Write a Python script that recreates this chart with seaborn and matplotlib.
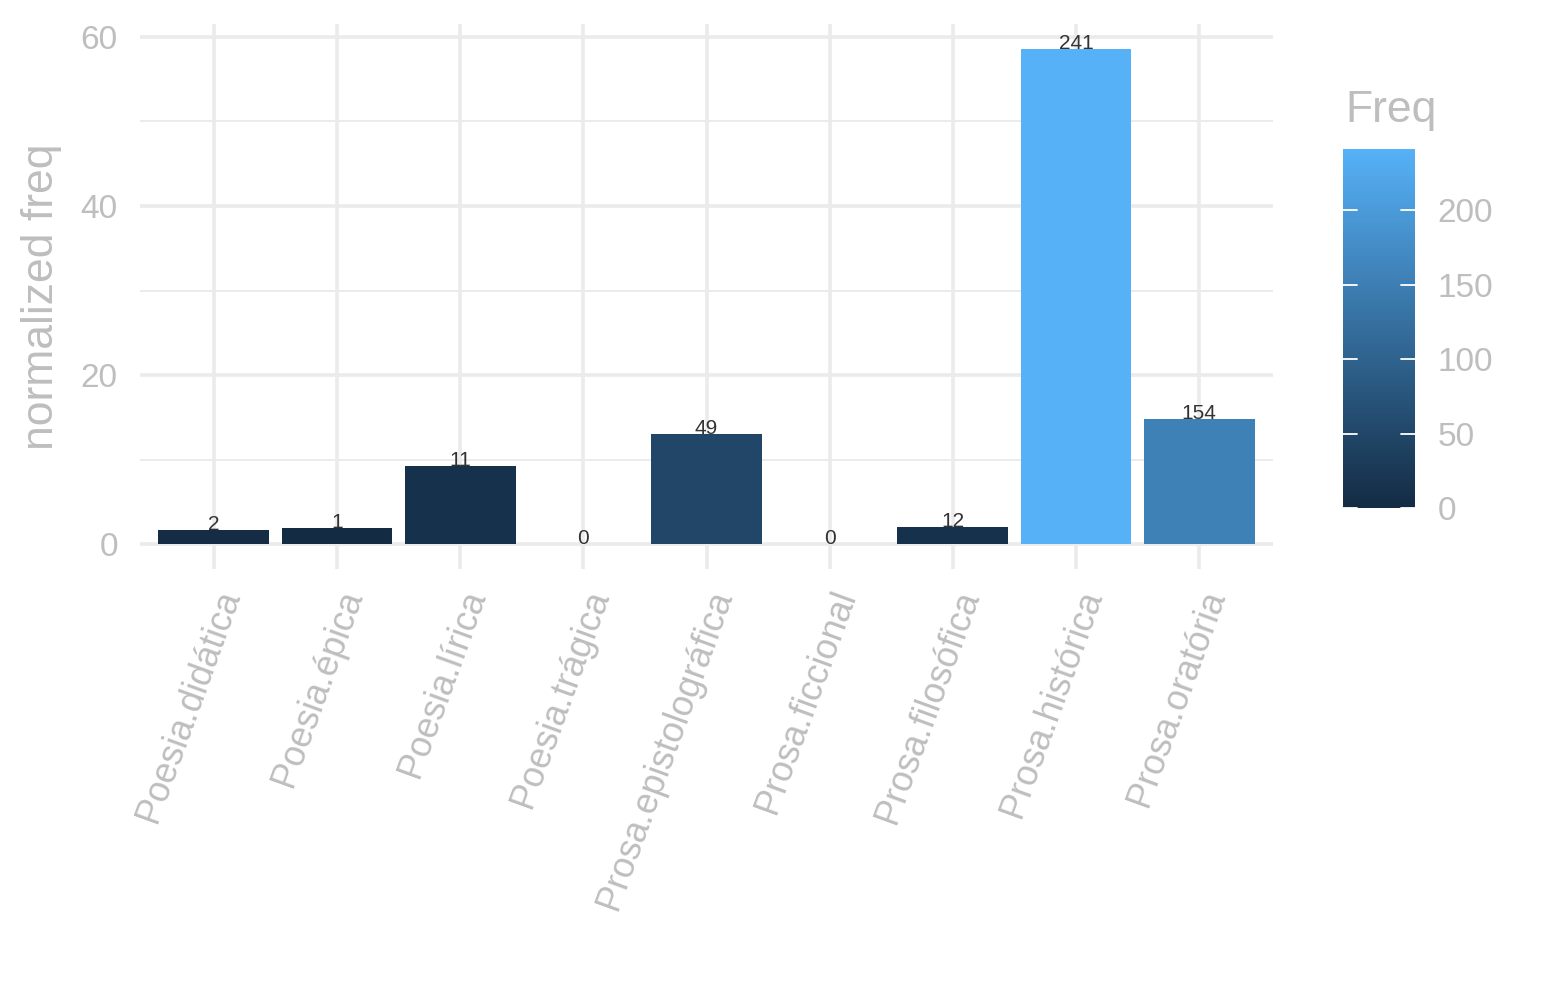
import matplotlib
matplotlib.use("Agg")
import matplotlib.pyplot as plt
import matplotlib.colors as mcolors
import matplotlib.cm as cm
import numpy as np
import pandas as pd
import seaborn as sns

categories = ["Poesia.didática", "Poesia.épica", "Poesia.lírica", "Poesia.trágica",
              "Prosa.epistolográfica", "Prosa.ficcional", "Prosa.filosófica",
              "Prosa.histórica", "Prosa.oratória"]
normalized = [1.66, 1.93, 9.23, 0.0, 13.0, 0.0, 2.05, 58.6, 14.8]
freq = [2, 1, 11, 0, 49, 0, 12, 241, 154]
cbar_ticks = [0, 50, 100, 150, 200]

sns.set_theme(style="white")
plt.rcParams['font.family'] = ['Liberation Sans', 'DejaVu Sans']

GREY = "#BEBEBE"
GRID = "#EBEBEB"

cmap = mcolors.LinearSegmentedColormap.from_list("gg", ["#132B43", "#56B1F7"])
norm = mcolors.Normalize(vmin=0, vmax=max(freq))
palette = [cmap(norm(v)) for v in freq]

df = pd.DataFrame({"cat": categories, "val": normalized, "freq": freq})

fig = plt.figure(figsize=(15.45, 10), dpi=100)
ax = fig.add_axes([0.0906, 0.431, 0.7334, 0.545])

sns.barplot(data=df, x="cat", y="val", hue="cat", palette=palette, legend=False,
            width=0.9, saturation=1, ax=ax, zorder=3, linewidth=0, edgecolor="none")

ax.set_xlim(-0.6, len(categories) - 1 + 0.6)
ymax = max(normalized)
ax.set_ylim(-0.05 * ymax, ymax * 1.05)
ax.set_yticks([0, 20, 40, 60])
ax.set_yticks([10, 30, 50], minor=True)

for s in ax.spines.values():
    s.set_visible(False)
ax.grid(False)
for y in [0, 20, 40, 60]:
    ax.axhline(y, color=GRID, lw=2.6, zorder=0)
for y in [10, 30, 50]:
    ax.axhline(y, color=GRID, lw=1.4, zorder=0)
for i in range(len(categories)):
    ax.axvline(i, color=GRID, lw=2.6, zorder=0)

ax.tick_params(axis='both', which='both', length=0)
ax.tick_params(axis='y', labelsize=24, labelcolor=GREY, pad=16)
ax.tick_params(axis='x', labelsize=26, labelcolor=GREY, pad=12)
for lbl in ax.get_xticklabels():
    lbl.set_rotation(70)
    lbl.set_ha('right')
    lbl.set_va('top')
    lbl.set_rotation_mode('anchor')

ax.set_xlabel("")
ax.set_ylabel("normalized freq", fontsize=32, color=GREY)
ax.yaxis.set_label_coords(-0.069, 0.5)

for i, (v, f) in enumerate(zip(normalized, freq)):
    ax.text(i, v, str(f), ha='center', va='baseline', fontsize=15, color="#333333", zorder=4)

# colorbar
cax = fig.add_axes([0.8693, 0.492, 0.0466, 0.359])
sm = cm.ScalarMappable(norm=norm, cmap=cmap)
cb = fig.colorbar(sm, cax=cax, ticks=cbar_ticks)
cb.outline.set_visible(False)
cax.tick_params(axis='y', length=0, left=False, right=False, labelleft=False,
                labelright=True, labelsize=24, labelcolor=GREY, pad=16)
for t in cbar_ticks:
    cax.axhline(t, xmin=0, xmax=0.2, color='white', lw=1.3, zorder=5)
    cax.axhline(t, xmin=0.8, xmax=1.0, color='white', lw=1.3, zorder=5)
fig.text(0.8705, 0.878, "Freq", fontsize=32, color=GREY, ha='left', va='baseline')

fig.savefig("out.png", dpi=100, facecolor="white")
